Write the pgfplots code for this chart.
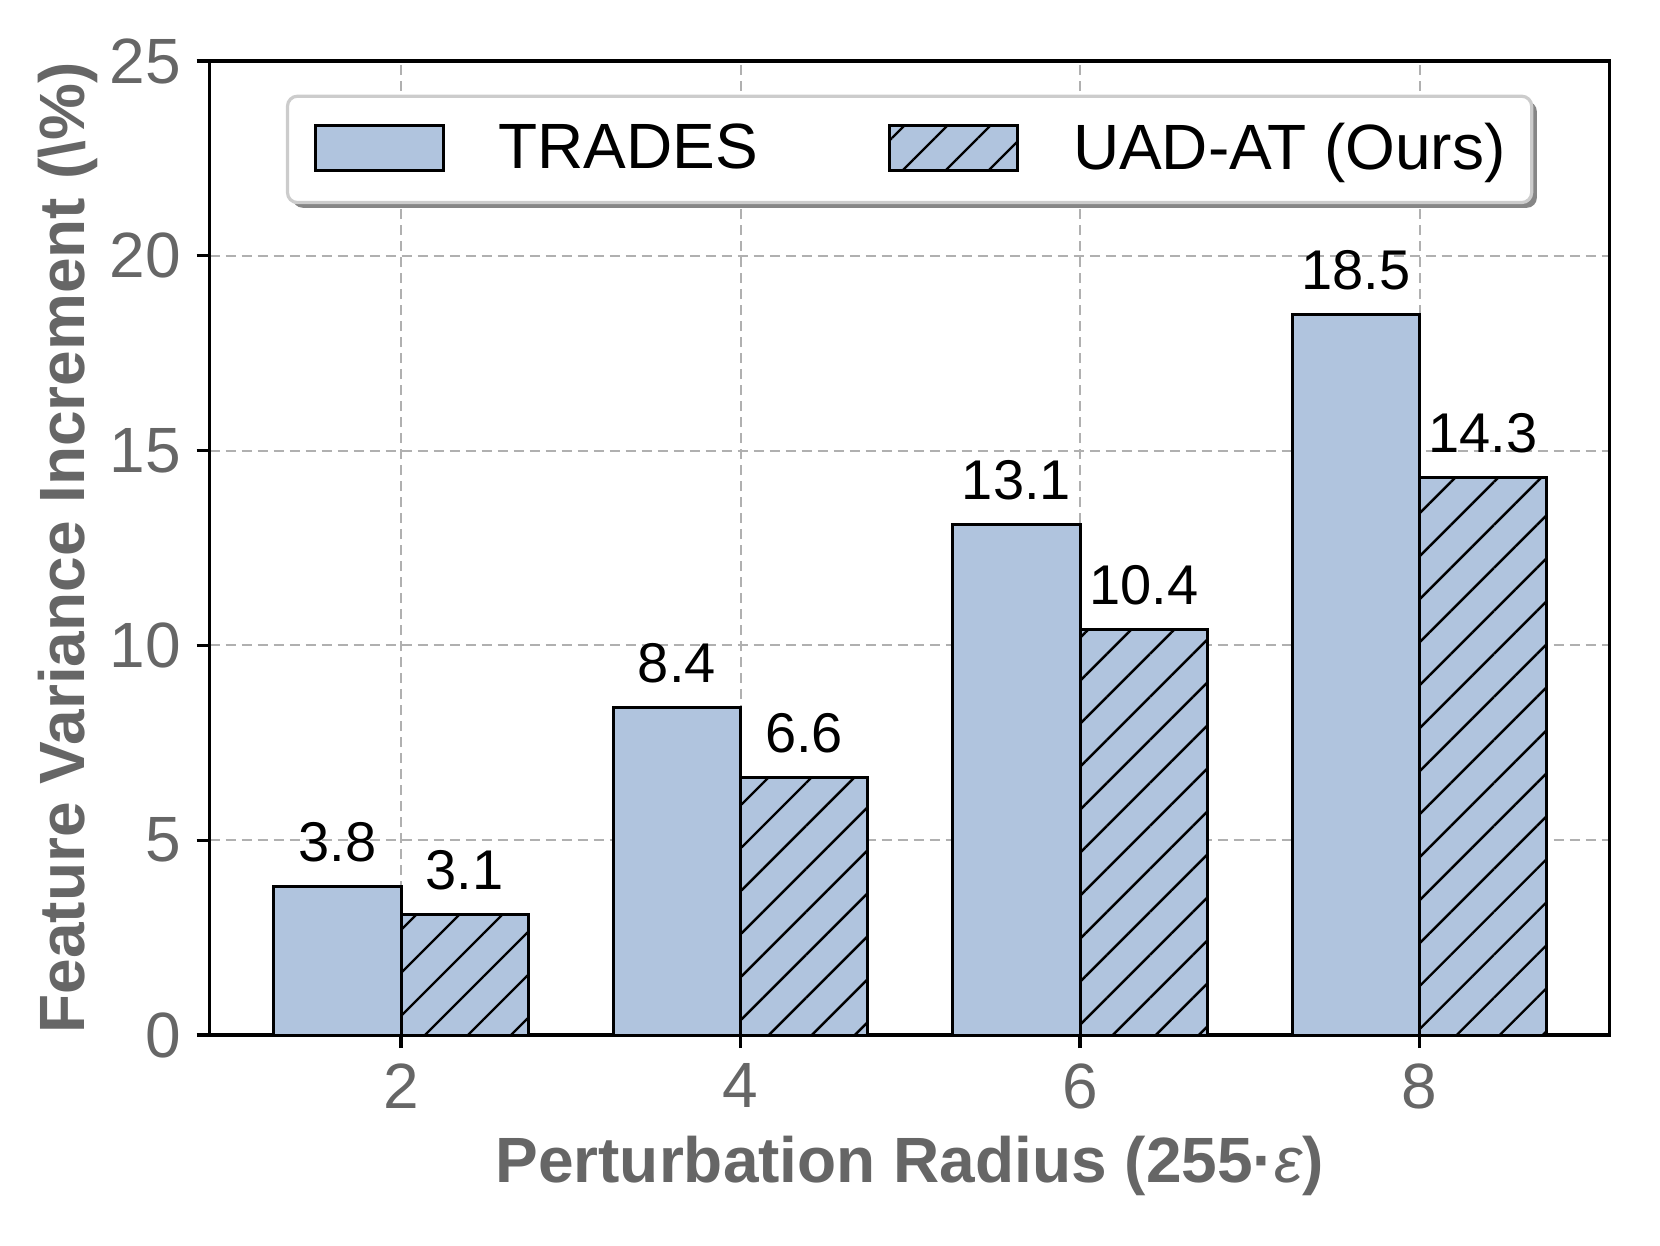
\documentclass[border=0pt]{standalone}
\usepackage{fontspec}
\setmainfont{Liberation Sans}
\usepackage{pgfplots}
\pgfplotsset{compat=1.18}
\usetikzlibrary{patterns.meta,shadows}
\definecolor{barblue}{HTML}{B0C4DE}
\definecolor{txtgray}{HTML}{666666}
\definecolor{gridgray}{HTML}{B0B0B0}
\definecolor{legedge}{HTML}{CCCCCC}
\pgfplotsset{/pgf/number format/assume math mode=true}
\makeatletter
\tikzset{no preactions/.code={\let\tikz@preactions\pgfutil@empty}}
\makeatother
\begin{document}
\begin{tikzpicture}
\begin{axis}[
  at={(0,0)}, anchor=south west,
  scale only axis,
  width=350pt, height=243.5pt,
  ybar, bar width=0.375,
  xmin=-0.564, xmax=3.56,
  ymin=0, ymax=25,
  ytick={0,5,10,15,20,25},
  xtick={0,1,2,3},
  xticklabels={2,4,6,8},
  tick align=outside,
  tick pos=left,
  major tick length=3.25pt,
  every tick/.style={black, line width=0.8pt},
  axis line style={line width=0.8pt},
  grid=major,
  major grid style={gridgray, dash pattern=on 2.5pt off 1.5pt, line width=0.5pt},
  /pgf/number format/assume math mode=true,
  ticklabel style={font=\fontsize{16}{19}\selectfont, text=txtgray, inner sep=0pt},
  yticklabel style={anchor=east, xshift=-3.75pt},
  xticklabel style={anchor=north, yshift=-3.75pt},
  xlabel={Perturbation Radius (255·{\mdseries\itshape ε})},
  xlabel style={at={(axis description cs:0.5,-0.151)}, anchor=base, font=\fontsize{16}{19}\selectfont\bfseries, text=txtgray, inner sep=0pt},
  ylabel={Feature Variance Increment (\textbackslash\%)},
  ylabel style={at={(axis description cs:-0.089,0.5)}, anchor=base, font=\fontsize{16}{19}\selectfont\bfseries, text=txtgray, inner sep=0pt},
  nodes near coords={\pgfmathprintnumber[fixed,fixed zerofill,precision=1]{\pgfplotspointmeta}},
  nodes near coords style={font=\fontsize{14}{17}\selectfont, text=black, inner sep=0pt, anchor=south, yshift=5.75pt},
  legend columns=2,
  legend style={
    at={(0.0545,0.9655)}, anchor=north west,
    draw=legedge, line width=0.8pt, rounded corners=2.5pt, fill=white,
    drop shadow={shadow xshift=1.3pt, shadow yshift=-1.3pt, fill=gray!95, opacity=1},
    inner xsep=6.5pt, inner ysep=6.75pt,
    font=\fontsize{16}{19}\selectfont,
    column sep=0pt,
    nodes={inner sep=0pt},
    /tikz/every odd column/.append style={column sep=13.5pt},
    /tikz/every even column/.append style={column sep=32.5pt},
  },
  legend image code/.code={\draw[no preactions, #1, sharp corners] (0pt,-5.3pt) rectangle (32pt,5.95pt);},
]
\addplot[draw=black, line width=0.75pt, fill=barblue, bar shift=-0.1875]
  coordinates {(0,3.8) (1,8.4) (2,13.1) (3,18.5)};
\addlegendentry{TRADES}
\addplot[draw=black, line width=0.75pt, fill=barblue, bar shift=0.1875,
  postaction={pattern color=black, pattern={Lines[angle=45,distance=7.6pt,line width=0.6pt]}}]
  coordinates {(0,3.1) (1,6.6) (2,10.4) (3,14.3)};
\addlegendentry{UAD-AT (Ours)}
\end{axis}
\pgfresetboundingbox
\path[use as bounding box] (-52.4pt,-52.5pt) rectangle (362.6pt,258.75pt);
\end{tikzpicture}
\end{document}
